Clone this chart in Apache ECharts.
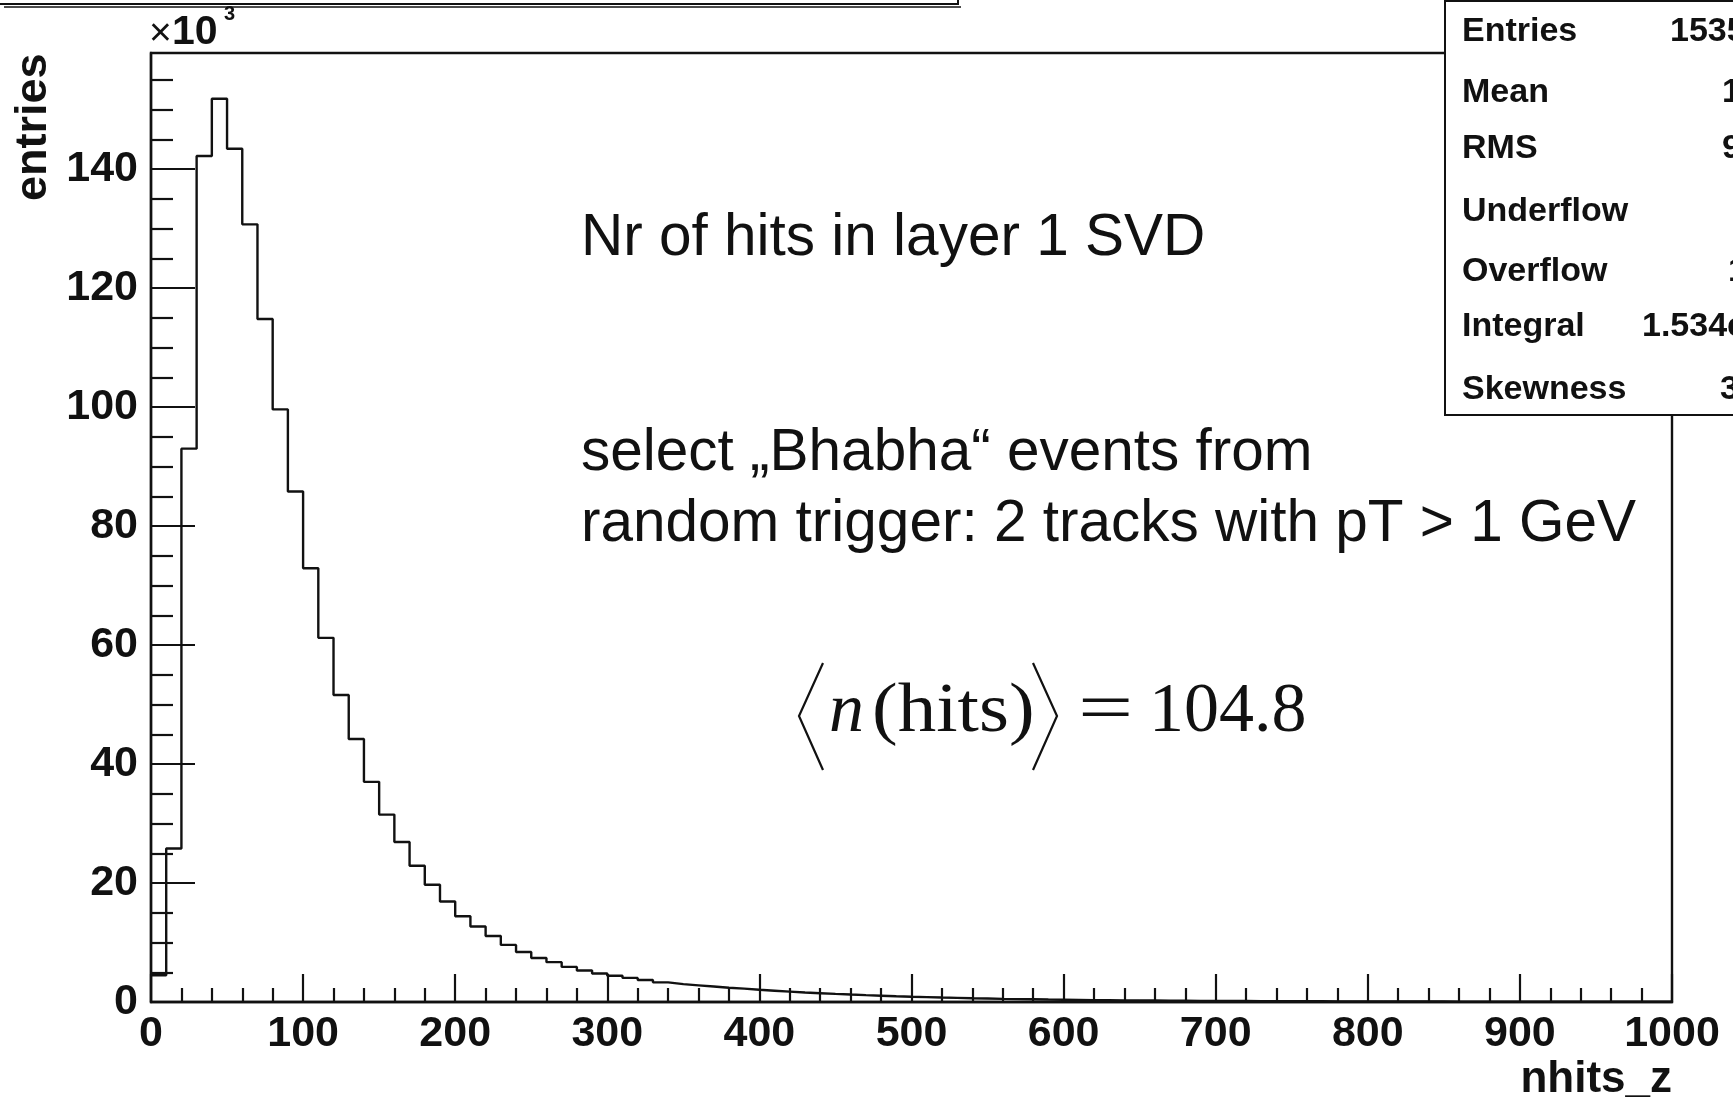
<!DOCTYPE html>
<html>
<head>
<meta charset="utf-8">
<script src="https://cdn.jsdelivr.net/npm/echarts@6/dist/echarts.min.js"></script>
<style>
html, body { margin: 0; padding: 0; background: #fff; }
#chart { width: 1733px; height: 1101px; }
</style>
</head>
<body>
<div id="chart"></div>
<script>
// nhits_z histogram: 100 bins of width 10 starting at 0, contents in 10^3 entries
const binStart = 0;
const binWidth = 10;
const counts = [
  4.5, 25.8, 93.0, 142.2, 151.8, 143.4, 130.7, 114.8, 99.6, 85.8,
  72.9, 61.2, 51.6, 44.2, 37.0, 31.5, 26.9, 22.9, 19.7, 16.9,
  14.4, 12.7, 11.1, 9.6, 8.4, 7.4, 6.7, 5.9, 5.3, 4.8,
  4.4, 4.05, 3.7, 3.3, 3.0, 2.8, 2.6, 2.4, 2.25, 2.05,
  1.9, 1.75, 1.6, 1.48, 1.36, 1.25, 1.15, 1.06, 0.97, 0.89,
  0.82, 0.75, 0.69, 0.63, 0.58, 0.53, 0.49, 0.45, 0.41, 0.38,
  0.35, 0.32, 0.30, 0.28, 0.26, 0.24, 0.22, 0.21, 0.19, 0.18,
  0.17, 0.16, 0.15, 0.14, 0.13, 0.12, 0.115, 0.11, 0.10, 0.095,
  0.09, 0.085, 0.08, 0.076, 0.072, 0.068, 0.064, 0.06, 0.057, 0.054,
  0.051, 0.048, 0.045, 0.043, 0.041, 0.039, 0.037, 0.035, 0.033, 0.031
];

// statistics box
const statNames = ['Entries', 'Mean', 'RMS', 'Underflow', 'Overflow', 'Integral', 'Skewness'];
const statValues = ['153557', '104.8', '95.31', '0', '1183', '1.534e+05', '3.214'];

// annotation lines
const noteTitle = 'Nr of hits in layer 1 SVD';
const noteSelection = ['select \u201EBhabha\u201C events from', 'random trigger: 2 tracks with pT > 1 GeV'];
const meanText = '104.8';

const yTitle = 'entries';
const xTitle = 'nhits_z';

// step outline: each bin's left edge, plus the closing edge at the upper limit
const stepData = counts.map((v, i) => [binStart + i * binWidth, v]);
stepData.push([binStart + counts.length * binWidth, counts[counts.length - 1]]);

const chart = echarts.init(document.getElementById('chart'), null, { renderer: 'canvas' });

const SANS = '"Liberation Sans", Arial, Helvetica, sans-serif';
const SERIF = '"Liberation Serif", "Times New Roman", serif';
const INK = '#111';

const rowY = [32, 93, 149, 212, 272, 327, 390];
const valueX = [1670, 1722, 1722, 1745, 1728, 1642, 1720];

const graphics = [];

// bottom edge of the title pave, cut by the top of the canvas
graphics.push({
  type: 'polyline', z: 50,
  shape: { points: [[-5, 4], [958, 4], [958, -5]] },
  style: { stroke: INK, lineWidth: 2, fill: null }
});
graphics.push({
  type: 'line', z: 50,
  shape: { x1: 4, y1: 7, x2: 961, y2: 7 },
  style: { stroke: INK, lineWidth: 1.5 }
});

// axis multiplier
graphics.push({ type: 'text', x: 149, y: 34, z: 50,
  style: { text: '\u00D7', font: '39px ' + SANS, fill: INK, align: 'left', verticalAlign: 'middle' } });
graphics.push({ type: 'text', x: 172, y: 33, z: 50,
  style: { text: '10', font: 'bold 41px ' + SANS, fill: INK, align: 'left', verticalAlign: 'middle' } });
graphics.push({ type: 'text', x: 224, y: 14, z: 50,
  style: { text: '3', font: 'bold 20px ' + SANS, fill: INK, align: 'left', verticalAlign: 'middle' } });

// axis titles
graphics.push({ type: 'text', x: 34, y: 201, rotation: Math.PI / 2, z: 50,
  style: { text: yTitle, font: 'bold 45px ' + SANS, fill: INK, align: 'left', verticalAlign: 'middle' } });
graphics.push({ type: 'text', x: 1672, y: 1080, z: 50,
  style: { text: xTitle, font: 'bold 44px ' + SANS, fill: INK, align: 'right', verticalAlign: 'middle' } });

// statistics box
graphics.push({ type: 'rect', z: 100,
  shape: { x: 1445, y: 1, width: 400, height: 414 },
  style: { fill: '#fff', stroke: INK, lineWidth: 2 } });
statNames.forEach((name, i) => {
  graphics.push({ type: 'text', x: 1462, y: rowY[i], z: 101,
    style: { text: name, font: 'bold 34px ' + SANS, fill: INK, align: 'left', verticalAlign: 'middle' } });
  graphics.push({ type: 'text', x: valueX[i], y: rowY[i], z: 101,
    style: { text: statValues[i], font: 'bold 34px ' + SANS, fill: INK, align: 'left', verticalAlign: 'middle' } });
});

// annotations
graphics.push({ type: 'text', x: 581, y: 239, z: 50,
  style: { text: noteTitle, font: '58.5px ' + SANS, fill: INK, align: 'left', verticalAlign: 'middle' } });
noteSelection.forEach((line, i) => {
  graphics.push({ type: 'text', x: 581, y: 454 + i * 71, z: 50,
    style: { text: line, font: '58.5px ' + SANS, fill: INK, align: 'left', verticalAlign: 'middle' } });
});

// <n(hits)> = 104.8
graphics.push({ type: 'polyline', z: 50,
  shape: { points: [[823, 663], [799, 716], [823, 770]] },
  style: { stroke: INK, lineWidth: 2.2, fill: null } });
graphics.push({ type: 'polyline', z: 50,
  shape: { points: [[1033, 663], [1057, 716], [1033, 770]] },
  style: { stroke: INK, lineWidth: 2.2, fill: null } });
graphics.push({ type: 'text', x: 829, y: 713, z: 50,
  style: { text: 'n', font: 'italic 70px ' + SERIF, fill: INK, align: 'left', verticalAlign: 'middle' } });
graphics.push({ type: 'text', x: 872, y: 713, scaleX: 1.1, z: 50,
  style: { text: '(hits)', font: '70px ' + SERIF, fill: INK, align: 'left', verticalAlign: 'middle' } });
graphics.push({ type: 'text', x: 1078, y: 713, scaleX: 1.4, z: 50,
  style: { text: '=', font: '70px ' + SERIF, fill: INK, align: 'left', verticalAlign: 'middle' } });
graphics.push({ type: 'text', x: 1149, y: 713, z: 50,
  style: { text: meanText, font: '70px ' + SERIF, fill: INK, align: 'left', verticalAlign: 'middle' } });

const option = {
  backgroundColor: '#fff',
  animation: false,
  grid: {
    left: 151, right: 61, top: 53, bottom: 99,
    show: true, borderColor: INK, borderWidth: 2.4, backgroundColor: 'transparent'
  },
  xAxis: {
    type: 'value', min: 0, max: 1000, interval: 100,
    axisLine: { show: true, lineStyle: { color: INK, width: 2.4 } },
    axisTick: { show: true, inside: true, length: 28, lineStyle: { color: INK, width: 2.2 } },
    minorTick: { show: true, splitNumber: 5, length: 14, lineStyle: { color: INK, width: 2.2 } },
    splitLine: { show: false },
    axisLabel: {
      color: INK, fontFamily: SANS, fontWeight: 'bold', fontSize: 43, margin: 11,
      formatter: v => String(v)
    }
  },
  yAxis: {
    type: 'value', min: 0, max: 159.5, interval: 20,
    axisLine: { show: true, lineStyle: { color: INK, width: 2.4 } },
    axisTick: { show: true, inside: true, length: 44, lineStyle: { color: INK, width: 2.2 } },
    minorTick: { show: true, splitNumber: 4, length: 22, lineStyle: { color: INK, width: 2.2 } },
    splitLine: { show: false },
    axisLabel: {
      color: INK, fontFamily: SANS, fontWeight: 'bold', fontSize: 43, margin: 13,
      showMaxLabel: false,
      formatter: v => (Math.abs(v % 20) < 1e-9 ? String(v) : '')
    }
  },
  series: [{
    type: 'line',
    step: 'end',
    data: stepData,
    showSymbol: false,
    symbol: 'none',
    clip: true,
    lineStyle: { color: INK, width: 2.4 },
    z: 3
  }],
  graphic: graphics
};

chart.setOption(option);
</script>
</body>
</html>
